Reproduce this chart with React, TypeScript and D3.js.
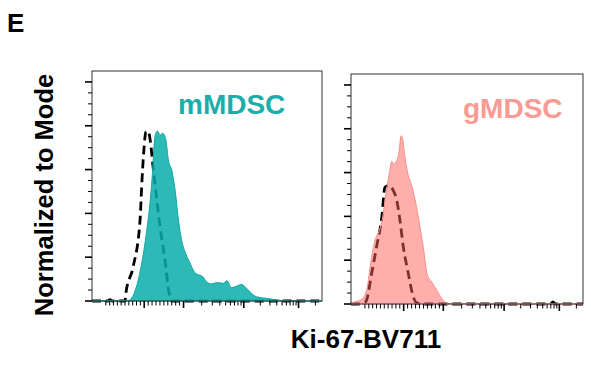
import React from 'react';
import * as d3 from 'd3';

// ---- Data (histogram x in display channels 0–1024, y in % of mode) ----
const mmdscChannel = [0, 120, 160, 169, 184, 206, 229, 244, 258, 270, 276, 284, 292, 303, 315, 329, 340, 355, 370, 385, 400, 414, 436, 459, 494, 510, 532, 555, 585, 600, 622, 644, 666, 681, 703, 733, 778, 822, 868, 930, 1024];
const mmdscValue = [0, 0.2, 0.3, 0.5, 2.7, 9.6, 21.8, 32.4, 44.6, 59.8, 70.5, 76.6, 77.6, 75.8, 76.6, 73.5, 64.4, 59.8, 50.7, 37, 27.2, 22.5, 17.4, 12.8, 11, 8.8, 7.8, 8.4, 8.1, 9.3, 6.1, 6.8, 7.6, 6.5, 4.2, 1.9, 1.2, 0.5, 0.1, 0, 0];

const mmdscCtrlChannel = [0, 70, 80, 90, 147, 151, 183, 214, 221, 231, 240, 249, 261, 270, 285, 303, 325, 343, 356, 880, 900, 910, 1024];
const mmdscCtrlValue = [0, 0, 0.6, 0, 0, 3.7, 15.5, 37, 52, 69, 77.2, 77.6, 72.1, 63, 49.3, 33.8, 18.7, 3.7, 0, 0, 0.6, 0, 0];

const gmdscChannel = [0, 3, 47, 69, 91, 106, 125, 140, 154, 169, 180, 190, 202, 212, 221, 228, 238, 253, 268, 282, 297, 319, 337, 356, 378, 400, 422, 470, 1024];
const gmdscValue = [0, 0.3, 2.1, 6.4, 21.5, 29.1, 33.6, 39.7, 50.3, 59.4, 65.1, 64, 65.5, 69.2, 76.8, 75.3, 67, 58.6, 54.1, 48, 39.7, 26, 13.2, 10.1, 6.4, 2.6, 0.3, 0.1, 0];

const gmdscCtrlChannel = [0, 30, 60, 69, 91, 113, 136, 150, 165, 187, 202, 216, 231, 253, 275, 290, 320, 880, 891, 902, 1024];
const gmdscCtrlValue = [0, 0, 0.5, 1.8, 13.9, 26.1, 39.7, 53.3, 54.1, 51.8, 47.3, 38.2, 26.1, 13.9, 3.3, 0.5, 0, 0, 1, 0, 0];

const panelLabels = ['mMDSC', 'gMDSC'];
const yMajorTicks = [0, 20, 40, 60, 80, 100];
const yMinorTicks = [5, 10, 15, 25, 30, 35, 45, 50, 55, 65, 70, 75, 85, 90, 95];
const xMajorTicks = [0, 1e3, 1e4, 1e5];
const xMinorTicks = [
  -1000, -900, -800, -700, -600, -500, -400, -300, -200, -100,
  100, 200, 300, 400, 500, 600, 700, 800, 900,
  2e3, 3e3, 4e3, 5e3, 6e3, 7e3, 8e3, 9e3,
  2e4, 3e4, 4e4, 5e4, 6e4, 7e4, 8e4, 9e4,
  2e5,
];
const yLabel = 'Normalized to Mode';
const xLabel = 'Ki-67-BV711';
const panelTag = 'E';

// logicle-like transform: linear within ±1000, log beyond
const tOf = (v: number) =>
  Math.abs(v) <= 1000 ? v / 1000 : Math.sign(v) * (1 + Math.log10(Math.abs(v) / 1000));
const valueToChannel = d3
  .scaleLinear()
  .domain([-1, 0, 1, 2, 3, tOf(262144)])
  .range([0.06, 0.227, 0.398, 0.66, 0.898, 1].map((f) => f * 1024));

const FONT = '"Liberation Sans", Arial, Helvetica, sans-serif';

type PanelProps = {
  box: { left: number; right: number; top: number; bottom: number };
  ch: number[];
  val: number[];
  ctrlCh: number[];
  ctrlVal: number[];
  fill: string;
  fillOpacity: number;
  stroke: string;
  label: string;
  labelColor: string;
  labelX: number;
  labelY: number;
};

function Panel(p: PanelProps) {
  const x = d3.scaleLinear().domain([0, 1024]).range([p.box.left, p.box.right]);
  const y = d3.scaleLinear().domain([0, 105]).range([p.box.bottom, p.box.top]);
  const pts = p.ch.map((c, i) => [c, p.val[i]] as [number, number]);
  const ctrl = p.ctrlCh.map((c, i) => [c, p.ctrlVal[i]] as [number, number]);
  const area = d3
    .area<[number, number]>()
    .x((d) => x(d[0]))
    .y0(y(0))
    .y1((d) => y(d[1]))
    .curve(d3.curveMonotoneX);
  const line = d3
    .line<[number, number]>()
    .x((d) => x(d[0]))
    .y((d) => y(d[1]))
    .curve(d3.curveMonotoneX);
  const xPos = (v: number) => x(valueToChannel(tOf(v)));
  return (
    <g>
      <path d={line(ctrl) || ''} fill="none" stroke="#000" strokeWidth={2.8} strokeDasharray="9,5" />
      <path d={area(pts) || ''} fill={p.fill} fillOpacity={p.fillOpacity} stroke={p.stroke} strokeWidth={1} />
      <rect
        x={p.box.left}
        y={p.box.top}
        width={p.box.right - p.box.left}
        height={p.box.bottom - p.box.top}
        fill="none"
        stroke="#333"
        strokeWidth={1}
      />
      {yMajorTicks.map((t) => (
        <line key={'ym' + t} x1={p.box.left - 7} x2={p.box.left} y1={y(t)} y2={y(t)} stroke="#000" strokeWidth={1.6} />
      ))}
      {yMinorTicks.map((t) => (
        <line key={'yn' + t} x1={p.box.left - 4} x2={p.box.left} y1={y(t)} y2={y(t)} stroke="#000" strokeWidth={1} />
      ))}
      {xMajorTicks.map((t) => (
        <line key={'xm' + t} x1={xPos(t)} x2={xPos(t)} y1={p.box.bottom} y2={p.box.bottom + 7} stroke="#000" strokeWidth={1.6} />
      ))}
      {xMinorTicks.map((t) => (
        <line key={'xn' + t} x1={xPos(t)} x2={xPos(t)} y1={p.box.bottom} y2={p.box.bottom + 4.5} stroke="#000" strokeWidth={1} />
      ))}
      <text x={p.labelX} y={p.labelY} fill={p.labelColor} fontFamily={FONT} fontWeight="bold" fontSize={28}>
        {p.label}
      </text>
    </g>
  );
}

export default function App() {
  return (
    <svg width={591} height={365} style={{ position: 'absolute', left: 0, top: 0, background: '#fff' }}>
      <rect x={0} y={0} width={591} height={365} fill="#fff" />
      <text x={7} y={32} fontFamily={FONT} fontWeight="bold" fontSize={26} fill="#000">
        {panelTag}
      </text>
      <text
        transform="translate(53,195) rotate(-90)"
        textAnchor="middle"
        fontFamily={FONT}
        fontWeight="bold"
        fontSize={25.5}
        fill="#000"
      >
        {yLabel}
      </text>
      <Panel
        box={{ left: 92, right: 322, top: 71, bottom: 301 }}
        ch={mmdscChannel}
        val={mmdscValue}
        ctrlCh={mmdscCtrlChannel}
        ctrlVal={mmdscCtrlValue}
        fill="#08ada9"
        fillOpacity={0.85}
        stroke="#12a8a4"
        label={panelLabels[0]}
        labelColor="#1aaeaa"
        labelX={178}
        labelY={114}
      />
      <Panel
        box={{ left: 351, right: 583, top: 74, bottom: 304 }}
        ch={gmdscChannel}
        val={gmdscValue}
        ctrlCh={gmdscCtrlChannel}
        ctrlVal={gmdscCtrlValue}
        fill="#ff5d59"
        fillOpacity={0.5}
        stroke="#f7908c"
        label={panelLabels[1]}
        labelColor="#f99a95"
        labelX={463}
        labelY={118}
      />
      <text x={366} y={348} textAnchor="middle" fontFamily={FONT} fontWeight="bold" fontSize={26} fill="#000">
        {xLabel}
      </text>
    </svg>
  );
}
